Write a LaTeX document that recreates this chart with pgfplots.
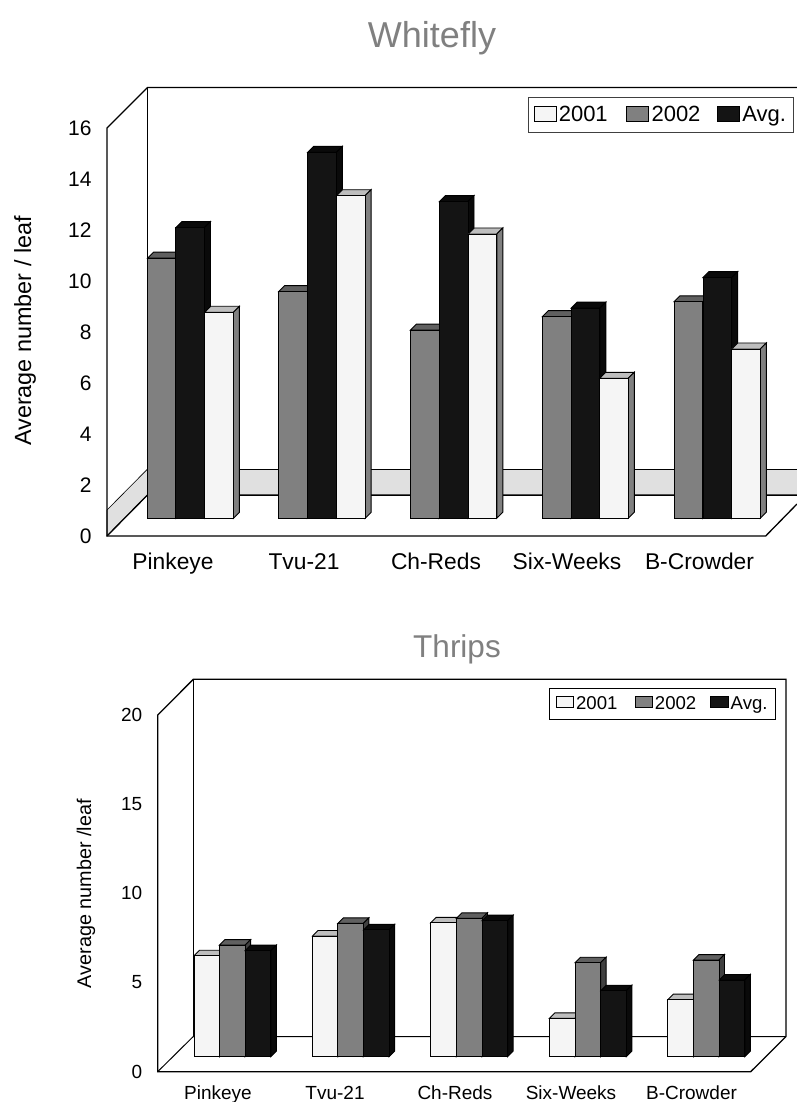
\documentclass[border=0pt]{standalone}
\usepackage{fontspec}
\setmainfont{Liberation Sans}
\usepackage{pgfplots}
\usepackage{pgfplotstable}
\pgfplotsset{compat=1.18}
\definecolor{cwhite}{HTML}{F5F5F5}
\definecolor{cwhitetop}{HTML}{BEBEBE}
\definecolor{cwhiteside}{HTML}{808080}
\definecolor{cgrey}{HTML}{808080}
\definecolor{cgreytop}{HTML}{606060}
\definecolor{cgreyside}{HTML}{404040}
\definecolor{cblack}{HTML}{141414}
\definecolor{cblacktop}{HTML}{0A0A0A}
\definecolor{cblackside}{HTML}{0A0A0A}
\definecolor{cband}{HTML}{E0E0E0}
\definecolor{ctitle}{HTML}{808080}
\newcommand{\faces}[4]{%
  \pgfmathsetmacro\xa{#1-\hw}\pgfmathsetmacro\xb{#1+\hw}%
  \pgfmathsetmacro\xc{\xb+\dpx}\pgfmathsetmacro\xd{\xa+\dpx}%
  \pgfmathsetmacro\yb{#2+\dy}%
  \edef\doit{\noexpand\addplot[forget plot,fill=#3,draw=black,line width=0.9bp] coordinates {(\xa,#2)(\xd,\yb)(\xc,\yb)(\xb,#2)} -- cycle;
  \noexpand\addplot[forget plot,fill=#4,draw=black,line width=0.9bp] coordinates {(\xb,0)(\xc,\dy)(\xc,\yb)(\xb,#2)} -- cycle;}%
  \doit}
\newcommand{\series}[4]{%
  \pgfplotsforeachungrouped \i in {0,...,4}{%
    \pgfplotstablegetelem{\i}{c}\of{#1}\let\cc\pgfplotsretval
    \pgfplotstablegetelem{\i}{v}\of{#1}\let\vv\pgfplotsretval
    \faces{\cc}{\vv}{#3}{#4}}%
  \pgfmathsetmacro\bwd{2*\hw}%
  \addplot[forget plot,ybar,bar width=\bwd bp,bar shift=0pt,fill=#2,draw=black,line width=0.9bp] table[x=c,y=v]{#1};}
% Whitefly
\pgfplotstableread{
c v
161.8 10.20
293.0 8.89
424.8 7.38
556.8 7.91
688.3 8.49
}\wfB
\pgfplotstableread{
c v
190.2 11.40
322.0 14.35
453.7 12.42
585.5 8.24
717.3 9.44
}\wfA
\pgfplotstableread{
c v
219.1 8.08
350.8 12.65
482.5 11.15
614.0 5.49
746.0 6.64
}\wfC
% Thrips
\pgfplotstableread{
c v
206.8 5.66
325.2 6.77
443.6 7.51
562.2 2.15
680.7 3.20
}\thC
\pgfplotstableread{
c v
232.3 6.26
350.6 7.48
469.2 7.76
587.8 5.27
706.2 5.42
}\thB
\pgfplotstableread{
c v
258.0 5.95
376.3 7.11
494.8 7.63
613.5 3.70
732.0 4.30
}\thA
\begin{document}
\begin{tikzpicture}
\path[use as bounding box] (0,0) rectangle (797bp,1102bp);
\begin{axis}[
  at={(107bp,566bp)},anchor=south west,
  scale only axis,width=690bp,height=448.5bp,
  xmin=107,xmax=797,ymin=-0.694,ymax=16.894,
  clip=false,
  axis line style={draw=none},
  tick style={draw=none},
  /pgf/number format/assume math mode=true,
  xtick={173,304,436,567,699.5},
  xticklabels={Pinkeye,Tvu-21,Ch-Reds,Six-Weeks,B-Crowder},
  ytick={-0.694,1.306,3.306,5.306,7.306,9.306,11.306,13.306,15.306},
  yticklabels={0,2,4,6,8,10,12,14,16},
  tick label style={text=black},
  yticklabel style={font=\fontsize{21bp}{26bp}\selectfont,anchor=east,xshift=-12bp},
  xticklabel style={font=\fontsize{22.8bp}{26bp}\selectfont,anchor=base,yshift=-33.5bp},
  every axis y label/.style={at={(axis cs:25,7.35)},rotate=90,anchor=center},
  ylabel={Average number / leaf},
  ylabel style={font=\fontsize{23.4bp}{26bp}\selectfont},
  every axis title/.style={at={(axis cs:432,18.83)},anchor=center},
  title={Whitefly},
  title style={font=\fontsize{36bp}{40bp}\selectfont,text=ctitle},
  legend image code/.code={\draw[#1,line width=0.8bp] (0bp,-6bp) rectangle (22bp,9bp);},
  legend columns=3,
  legend style={at={(axis cs:528,16.52)},anchor=north west,draw=black!75,line width=1bp,fill=white,
    font=\fontsize{22bp}{26bp}\selectfont,inner xsep=5bp,inner ysep=2bp,
    /tikz/column 2/.style={column sep=16bp},/tikz/column 4/.style={column sep=14bp},
    nodes={inner xsep=2.5bp,inner ysep=7bp}},
]
\def\hw{14.3}\def\dpx{6}\def\dy{0.235}
\addlegendimage{fill=cwhite,draw=black}
\addlegendimage{fill=cgrey,draw=black}
\addlegendimage{fill=cblack,draw=black}
% frame
\addplot[forget plot,fill=cband,draw=black,line width=0.6bp] coordinates {(147.5,1.93)(797,1.93)(797,0.914)(147.5,0.914)} -- cycle;
\addplot[forget plot,fill=cband,draw=black,line width=0.6bp] coordinates {(107,-0.694)(147.5,0.914)(147.5,1.93)(107,0.325)} -- cycle;
\addplot[forget plot,draw=black,line width=1.3bp] coordinates {(107,-0.694)(147.5,0.914)(797,0.914)};
\addplot[forget plot,draw=black,line width=1.3bp] coordinates {(797,0.56)(765.7,-0.694)(107,-0.694)(107,15.306)(147.5,16.894)(797,16.894)};
\addplot[forget plot,draw=black,line width=1bp] coordinates {(147.5,16.894)(147.5,1.93)};
\series{\wfB}{cgrey}{cgreytop}{cgreyside}
\series{\wfA}{cblack}{cblacktop}{cblackside}
\series{\wfC}{cwhite}{cwhitetop}{cwhiteside}
\legend{2001,2002,Avg.}
\end{axis}
\begin{axis}[
  at={(157.7bp,30.3bp)},anchor=south west,
  scale only axis,width=639.3bp,height=392.4bp,
  xmin=157.7,xmax=797,ymin=-0.841,ymax=21.167,
  clip=false,
  axis line style={draw=none},
  tick style={draw=none},
  /pgf/number format/assume math mode=true,
  xtick={218,335,455,571,691.5},
  xticklabels={Pinkeye,Tvu-21,Ch-Reds,Six-Weeks,B-Crowder},
  ytick={-0.841,4.159,9.159,14.159,19.159},
  yticklabels={0,5,10,15,20},
  tick label style={text=black},
  yticklabel style={font=\fontsize{19bp}{22bp}\selectfont,anchor=east,xshift=-12bp},
  xticklabel style={font=\fontsize{19bp}{22bp}\selectfont,anchor=base,yshift=-27.8bp},
  every axis y label/.style={at={(axis cs:86,9.14)},rotate=90,anchor=center},
  ylabel={Average number /leaf},
  ylabel style={font=\fontsize{19.8bp}{22bp}\selectfont},
  every axis title/.style={at={(axis cs:457,22.83)},anchor=center},
  title={Thrips},
  title style={font=\fontsize{31.5bp}{34bp}\selectfont,text=ctitle},
  legend image code/.code={\draw[#1,line width=0.8bp] (0bp,-4bp) rectangle (17.6bp,7.6bp);},
  legend columns=3,
  legend style={at={(axis cs:549.3,20.67)},anchor=north west,draw=black,line width=0.9bp,fill=white,
    font=\fontsize{18.6bp}{22bp}\selectfont,inner xsep=6bp,inner ysep=2bp,
    /tikz/column 2/.style={column sep=15bp},/tikz/column 4/.style={column sep=12bp},
    nodes={inner xsep=2bp,inner ysep=6bp}},
]
\def\hw{12.8}\def\dpx{5.5}\def\dy{0.308}
\addlegendimage{fill=cwhite,draw=black}
\addlegendimage{fill=cgrey,draw=black}
\addlegendimage{fill=cblack,draw=black}
\addplot[forget plot,draw=black,line width=1.3bp] coordinates {(786,1.133)(750.7,-0.841)(157.7,-0.841)(157.7,19.159)(193.3,21.167)(786,21.167)(786,1.133)};
\addplot[forget plot,draw=black,line width=1bp] coordinates {(157.7,-0.841)(193.3,1.133)(786,1.133)};
\addplot[forget plot,draw=black,line width=1bp] coordinates {(193.3,21.167)(193.3,1.133)};
\series{\thC}{cwhite}{cwhitetop}{cwhiteside}
\series{\thB}{cgrey}{cgreytop}{cgreyside}
\series{\thA}{cblack}{cblacktop}{cblackside}
\legend{2001,2002,Avg.}
\end{axis}
\end{tikzpicture}
\end{document}
